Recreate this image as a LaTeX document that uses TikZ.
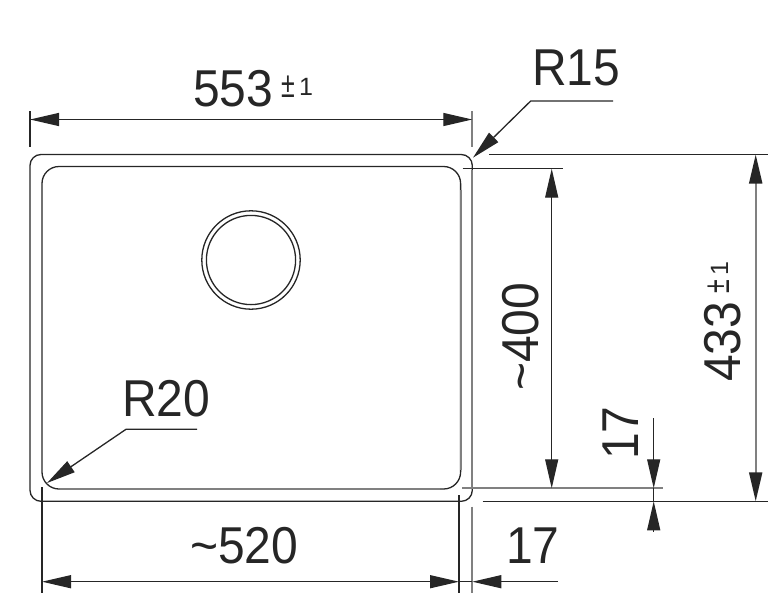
\documentclass[tikz,border=0pt]{standalone}
\usepackage{fontspec}
\setmainfont{Liberation Sans}
\usetikzlibrary{arrows.meta}
\definecolor{ink}{HTML}{262626}
\definecolor{soft}{HTML}{808080}
\newcommand\tallbig[1]{\scalebox{1}[1.08]{#1}}
\newcommand\tallpm{\scalebox{1}[1.45]{±}}
\tikzset{
 x=1pt,y=-1pt,
 line/.style={draw=ink,line width=1.3pt},
 softline/.style={draw=soft,line width=2pt},
 softthin/.style={draw=soft,line width=1.8pt},
 tipped/.style={-{Triangle[length=29pt,width=13pt,color=ink]}},
 big/.style={inner sep=0pt,anchor=base west,text=ink,font=\fontsize{48}{50}\selectfont},
 small/.style={inner sep=0pt,anchor=base west,text=ink,font=\fontsize{25}{28}\selectfont},
}
\begin{document}
\begin{tikzpicture}
\useasboundingbox (0,0) rectangle (782,608);
% named points
\coordinate (OL) at (30,154.5);
\coordinate (OR) at (472.3,501.3);
\coordinate (IL) at (42,166.5);
\coordinate (IR) at (460.6,489);
% sink outlines
\draw[line,rounded corners=11pt] (OL) rectangle (OR);
\draw[line,rounded corners=17pt] (IL) rectangle (IR);
\draw[softthin] (460.6,190) -- (460.6,470);
\draw[softthin] (472.3,170) -- (472.3,488);
\draw[softthin] (60,489) -- (440,489);
% drain
\coordinate (C) at (251,260);
\draw[line] (C) circle (49.2);
\draw[line] (C) circle (44.6);
% 553
\coordinate (a1) at (30,119.5); \coordinate (a2) at (472.3,119.5);
\draw[line] (30,111) -- (30,147);
\draw[softthin] (472.3,111) -- (472.3,147);
\draw[line,tipped] (251,119.5) -- (a1);
\draw[line,tipped] (251,119.5) -- (a2);
\node[big] (t553) at (193,106) {\tallbig{553}};
\node[small] (t553p) at (281,97) {\tallpm};
\node[small] (t553o) at (299,95) {1};
% R15
\coordinate (r15a) at (613,101); \coordinate (r15b) at (530.7,101); \coordinate (r15c) at (473,157.7);
\draw[line,tipped] (r15a) -- (r15b) -- (r15c);
\node[big] (tR15) at (532,85) {\tallbig{R15}};
% R20
\coordinate (r20a) at (197,429.3); \coordinate (r20b) at (126,429.3); \coordinate (r20c) at (47,483);
\draw[line,tipped] (r20a) -- (r20b) -- (r20c);
\node[big] (tR20) at (122,416) {\tallbig{R20}};
% horizontal extension lines
\draw[line] (489.3,154.5) -- (767.7,154.5);
\draw[line] (462.7,168.7) -- (562.7,168.7);
\draw[softline] (462.3,488.3) -- (663.3,488.3);
\draw[line] (482.7,501.3) -- (767.7,501.3);
% ~400
\coordinate (b1) at (551.7,168.7); \coordinate (b2) at (551.7,488.3);
\draw[line,tipped] (551.7,330) -- (b1);
\draw[line,tipped] (551.7,330) -- (b2);
\node[big,rotate=90] (t400) at (538,391) {\tallbig{\char`\~400}};
% 433
\coordinate (c1) at (755.7,154.5); \coordinate (c2) at (755.7,501.3);
\draw[softline,tipped] (755.7,330) -- (c1);
\draw[softline,tipped] (755.7,330) -- (c2);
\node[big,rotate=90] (t433) at (740,382) {\tallbig{433}};
\node[small,rotate=90] (t433p) at (729,294) {\tallpm};
\node[small,rotate=90] (t433o) at (728,276) {1};
% 17 vertical
\coordinate (d0) at (653.7,418); \coordinate (d1) at (653.7,488.3); \coordinate (d2) at (653.7,501.3); \coordinate (d3) at (653.7,531.7);
\draw[line,tipped] (d0) -- (d1);
\draw[line] (d1) -- (d2);
\draw[line,tipped] (d3) -- (d2);
\node[big,rotate=90] (t17v) at (638,460) {\tallbig{17}};
% bottom dimensions
\draw[line] (42,487) -- (42,593);
\draw[line] (459,495) -- (459,593);
\draw[softthin] (472.3,506.7) -- (472.3,593);
\coordinate (e1) at (42,581.7); \coordinate (e2) at (459,581.7); \coordinate (e3) at (472.3,581.7); \coordinate (e4) at (558,581.7);
\draw[line,tipped] (250,581.7) -- (e1);
\draw[line,tipped] (250,581.7) -- (e2);
\draw[line] (e2) -- (e3);
\draw[line,tipped] (e4) -- (e3);
\node[big] (t520) at (190,563) {\tallbig{\char`\~520}};
\node[big] (t17h) at (506,563) {\tallbig{17}};
\end{tikzpicture}
\end{document}
